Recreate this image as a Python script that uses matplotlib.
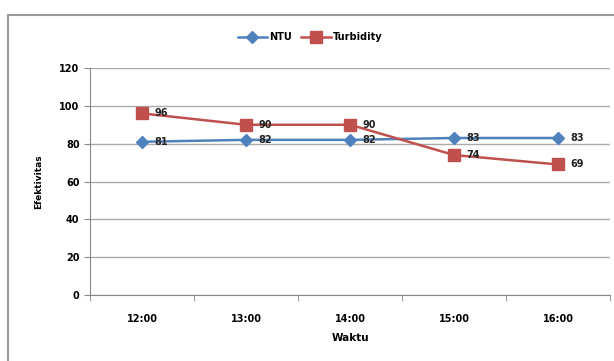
import matplotlib.pyplot as plt
from matplotlib.patches import Rectangle

waktu = ['12:00', '13:00', '14:00', '15:00', '16:00']
ntu = [81, 82, 82, 83, 83]
turbidity = [96, 90, 90, 74, 69]
y_ticks = [0, 20, 40, 60, 80, 100, 120]

plt.rcParams['font.family'] = ['DejaVu Sans']
fig = plt.figure(figsize=(6.14, 3.61), dpi=100)

# bingkai luar grafik
fig.patches.append(Rectangle((8 / 614, -0.1), 1.0, 1 - 15 / 361 + 0.1,
                             transform=fig.transFigure, fill=False,
                             edgecolor='#999999', linewidth=1.5))

ax = fig.add_axes([90 / 614, 66 / 361, 520 / 614, 227 / 361])
x = list(range(len(waktu)))

ax.plot(x, ntu, color='#4F81BD', marker='D', markersize=6, linewidth=1.8, label='NTU')
ax.plot(x, turbidity, color='#C0504D', marker='s', markersize=8, linewidth=1.8, label='Turbidity')

for i in x:
    ax.annotate(str(ntu[i]), (i, ntu[i]), xytext=(9, 0), textcoords='offset points',
                va='center', fontsize=7, fontweight='bold', color='#222222')
    ax.annotate(str(turbidity[i]), (i, turbidity[i]), xytext=(9, 0), textcoords='offset points',
                va='center', fontsize=7, fontweight='bold', color='#222222')

ax.set_xlim(-0.5, len(waktu) - 0.5)
ax.set_ylim(0, 120)
ax.set_yticks(y_ticks)
ax.set_xticks(x)
ax.set_xticklabels(waktu)
ax.set_xticks([i - 0.5 for i in range(len(waktu) + 1)], minor=True)
ax.tick_params(axis='x', which='major', length=0, pad=14, labelsize=7)
ax.tick_params(axis='x', which='minor', length=4, color='#888888')
ax.tick_params(axis='y', length=4, color='#888888', labelsize=7)
for lbl in ax.get_xticklabels() + ax.get_yticklabels():
    lbl.set_fontweight('bold')

ax.grid(axis='y', color='#aaaaaa', linewidth=1)
ax.set_axisbelow(True)
for s in ['top', 'right']:
    ax.spines[s].set_visible(False)
for s in ['left', 'bottom']:
    ax.spines[s].set_color('#888888')

ax.set_xlabel('Waktu', fontsize=7.5, fontweight='bold', labelpad=6)
ax.set_ylabel('Efektivitas', fontsize=6.5, fontweight='bold', labelpad=12)

ax.legend(loc='center', bbox_to_anchor=(310 / 614, 1 - 37 / 361), bbox_transform=fig.transFigure,
          ncol=2, frameon=False, handlelength=3, columnspacing=1,
          handletextpad=0.2, prop={'weight': 'bold', 'size': 7})

fig.savefig('out.png', dpi=100)
